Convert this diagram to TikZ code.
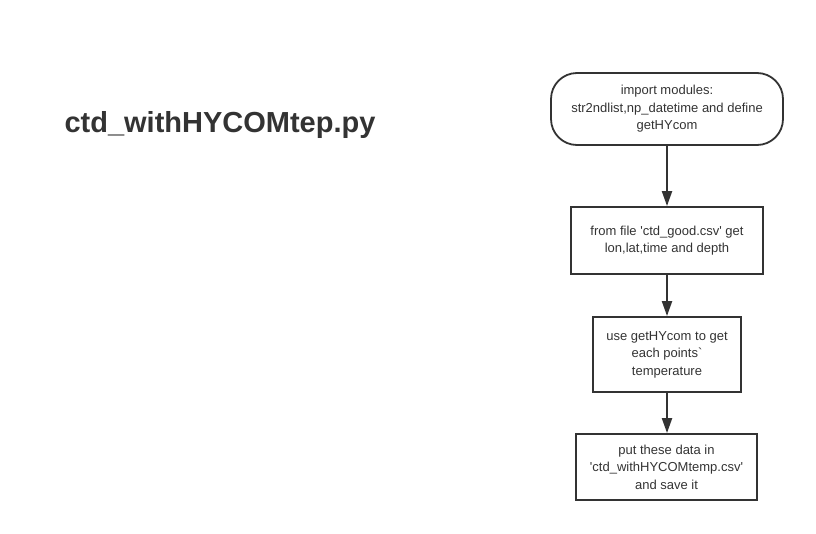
\documentclass[tikz,border=0pt]{standalone}
\usepackage{fontspec}
\setmainfont{Liberation Sans}
\usetikzlibrary{arrows.meta}
\definecolor{inkgray}{HTML}{333333}

\begin{document}
\begin{tikzpicture}[x=1pt,y=-1pt,
  stepbox/.style={draw=inkgray,line width=1.8pt,align=center,inner sep=0pt,
    text=inkgray,font=\fontsize{13}{17.5}\selectfont},
  flow/.style={draw=inkgray,line width=2pt,-{Triangle[length=15pt,width=10pt]}}]
\useasboundingbox (0,0) rectangle (816,533);
% script name
\node[text=inkgray,font=\fontsize{29}{34}\selectfont\bfseries] (title) at (220,125) {ctd\_withHYCOMtep.py};
% steps
\node[stepbox,rounded corners=26pt,minimum width=232pt,minimum height=72pt] (imp) at (667,109)
  {import modules:\\str2ndlist,np\_datetime and define\\getHYcom};
\node[stepbox,minimum width=192pt,minimum height=67pt] (read) at (667,240.5)
  {from file \textquotesingle ctd\_good.csv\textquotesingle{} get\\lon,lat,time and depth};
\node[stepbox,minimum width=148pt,minimum height=75pt] (temp) at (667,354.5)
  {use getHYcom to get\\each points\textasciigrave\\temperature};
\node[stepbox,minimum width=181pt,minimum height=66pt] (save) at (666.5,467)
  {put these data in\\\textquotesingle ctd\_withHYCOMtemp.csv\textquotesingle\\and save it};
\draw[flow] (imp) -- (read);
\draw[flow] (read) -- (temp);
\draw[flow] (temp) -- (temp.south|-save.north);
\end{tikzpicture}
\end{document}
